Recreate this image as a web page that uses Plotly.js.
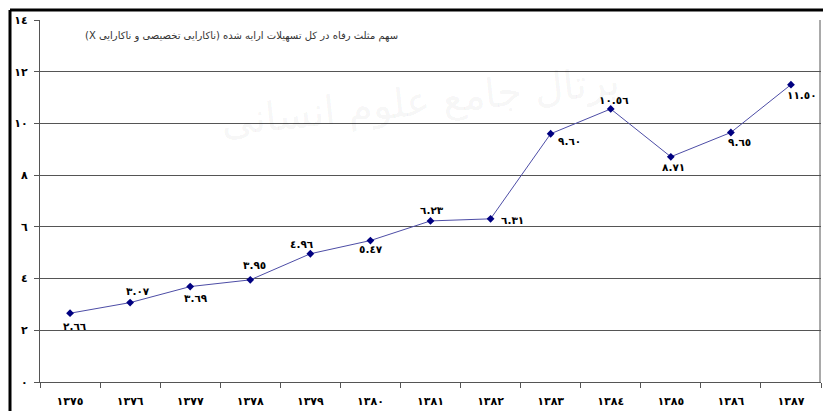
<!DOCTYPE html>
<html><head><meta charset="utf-8">
<script src="https://cdn.plot.ly/plotly-3.0.1.min.js"></script>
<style>html,body{margin:0;padding:0;background:#fff}#c{width:823px;height:411px}</style>
</head><body><div id="c"></div>
<script>
const years = ['١٣٧٥','١٣٧٦','١٣٧٧','١٣٧٨','١٣٧٩','١٣٨٠','١٣٨١','١٣٨٢','١٣٨٣','١٣٨٤','١٣٨٥','١٣٨٦','١٣٨٧'];
const values = [2.66, 3.07, 3.69, 3.95, 4.96, 5.47, 6.23, 6.31, 9.60, 10.56, 8.71, 9.65, 11.50];
const labels = ['٢.٦٦','٣.٠٧','٣.٦٩','٣.٩٥','٤.٩٦','٥.٤٧','٦.٢٣','٦.٣١','٩.٦٠','١٠.٥٦','٨.٧١','٩.٦٥','١١.٥٠'];
const yTicks = [0,2,4,6,8,10,12,14];
const yTickText = ['٠','٢','٤','٦','٨','١٠','١٢','١٤'];
const titleText = 'سهم مثلث رفاه در کل تسهیلات ارایه شده (ناکارایی تخصیصی و ناکارایی X)';

// label offsets in pixels (style only)
const labelDx = [5, 8, 6, 4, -8, 1, 1, 22, 19, 3, 3, 9, 11];
const labelDy = [-13, 12, -11, 15, 10, -8, 11, -1, -7, 9, -10, -10, -10];

const L=40, R=821, T=20, B=382;
const px = x => (x-L)/(R-L);
const py = y => (B-y)/(B-T);

const labelAnns = values.map((v,i)=>({
  x: years[i], y: v, xref:'x', yref:'y', text: labels[i], showarrow:false,
  xshift: labelDx[i], yshift: labelDy[i], xanchor:'center', yanchor:'middle',
  font:{family:'DejaVu Sans', size:10.5, color:'#000', weight:'bold'}
}));

Plotly.newPlot('c', [{
  x: years, y: values, type:'scatter', mode:'lines+markers',
  line:{color:'#4d4da6', width:1},
  marker:{symbol:'diamond', size:6, color:'#000080'},
  cliponaxis:false, hoverinfo:'skip'
}], {
  width:823, height:411,
  margin:{l:L, r:823-R, t:T, b:411-B, pad:0},
  paper_bgcolor:'#fff', plot_bgcolor:'#fff',
  showlegend:false,
  font:{family:'DejaVu Sans', color:'#000'},
  xaxis:{type:'category', tickmode:'array', tickvals:years, ticktext:years,
    tickson:'boundaries', ticks:'outside', ticklen:5, tickcolor:'#555',
    showline:true, linecolor:'#555', linewidth:1, showgrid:false,
    tickfont:{family:'DejaVu Sans', size:11, color:'#000', weight:'bold'},
    ticklabelstandoff:9,
    range:[-0.5,12.5], fixedrange:true},
  yaxis:{range:[0,14], tickmode:'array', tickvals:yTicks, ticktext:yTickText,
    ticks:'outside', ticklen:5, tickcolor:'#555',
    showline:true, linecolor:'#555', linewidth:1,
    showgrid:true, gridcolor:'#555', gridwidth:1, zeroline:false,
    tickfont:{family:'DejaVu Sans', size:11, color:'#000', weight:'bold'},
    ticklabelstandoff:4, fixedrange:true},
  annotations:[
    {xref:'paper', yref:'paper', x:px(400), y:py(36), xanchor:'right', yanchor:'middle',
     text:'\u202B' + titleText + '\u202C', showarrow:false, font:{family:'DejaVu Sans', size:10, color:'#333'}},
    {xref:'paper', yref:'paper', x:px(420), y:py(55), text:'پرتال جامع علوم انسانی', showarrow:false,
     font:{family:'DejaVu Sans', size:40, color:'rgba(0,0,0,0.05)'}, textangle:-6}
  ].concat(labelAnns),
  shapes:[
    {type:'line', xref:'paper', yref:'paper', x0:px(R-1), x1:px(R-1), y0:0, y1:1, line:{color:'#555', width:1}},
    {type:'line', xref:'paper', yref:'paper', x0:px(10), x1:px(823), y0:py(10), y1:py(10), line:{color:'#000', width:3}},
    {type:'line', xref:'paper', yref:'paper', x0:px(10), x1:px(10), y0:py(10), y1:py(411), line:{color:'#000', width:3}}
  ]
}, {staticPlot:true});
</script></body></html>
